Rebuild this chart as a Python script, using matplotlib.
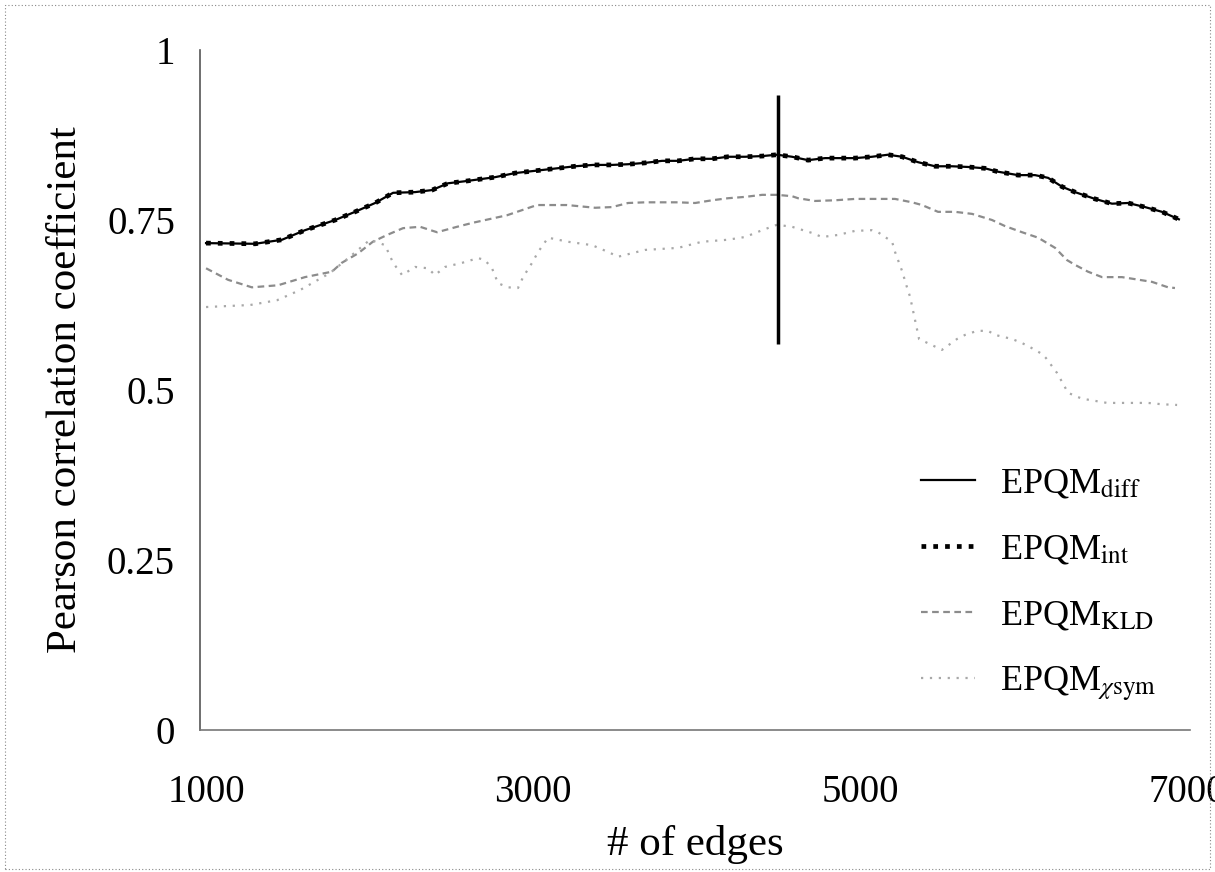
import matplotlib
matplotlib.use("Agg")
import matplotlib.pyplot as plt
from matplotlib.patches import Rectangle

plt.rcParams['font.family'] = ['Liberation Serif', 'DejaVu Serif']
plt.rcParams['mathtext.fontset'] = 'stix'

# ---- data ----
diff_x = [1000, 1300, 1465, 1605, 1790, 1911, 2034, 2144, 2278, 2382, 2480, 2584, 2768, 2890,
          3073, 3257, 3367, 3483, 3581, 3685, 3789, 3887, 3991, 4095, 4192, 4297, 4401, 4492,
          4584, 4682, 4786, 4865, 4969, 5073, 5171, 5257, 5355, 5459, 5563, 5660, 5764, 5844,
          5966, 6070, 6150, 6235, 6315, 6437, 6541, 6639, 6743, 6847, 6950]
diff_v = [0.716, 0.715, 0.721, 0.735, 0.750, 0.762, 0.775, 0.790, 0.791, 0.794, 0.804, 0.807,
          0.813, 0.819, 0.824, 0.829, 0.831, 0.831, 0.832, 0.834, 0.837, 0.837, 0.840, 0.840,
          0.843, 0.843, 0.844, 0.846, 0.843, 0.838, 0.841, 0.841, 0.841, 0.843, 0.846, 0.843,
          0.835, 0.829, 0.829, 0.828, 0.826, 0.821, 0.816, 0.816, 0.812, 0.799, 0.791, 0.781,
          0.774, 0.775, 0.769, 0.762, 0.751]
int_x = diff_x
int_v = diff_v

kld_x = [1000, 1135, 1280, 1440, 1605, 1770, 1830, 1930, 2020, 2107, 2205, 2309, 2413, 2535,
         2633, 2841, 3024, 3208, 3379, 3483, 3581, 3685, 3887, 3991, 4095, 4192, 4297, 4401,
         4492, 4584, 4621, 4725, 4847, 4969, 5092, 5214, 5318, 5379, 5477, 5581, 5685, 5807,
         5887, 5991, 6089, 6193, 6266, 6315, 6394, 6480, 6602, 6682, 6786, 6884, 6926]
kld_v = [0.679, 0.662, 0.651, 0.654, 0.666, 0.674, 0.687, 0.701, 0.718, 0.728, 0.738, 0.740,
         0.732, 0.740, 0.746, 0.757, 0.772, 0.772, 0.768, 0.769, 0.775, 0.776, 0.776, 0.775,
         0.779, 0.782, 0.784, 0.787, 0.787, 0.785, 0.782, 0.778, 0.779, 0.781, 0.781, 0.781,
         0.776, 0.772, 0.762, 0.762, 0.759, 0.750, 0.741, 0.732, 0.724, 0.709, 0.691, 0.684,
         0.674, 0.666, 0.666, 0.663, 0.659, 0.651, 0.650]

chi_x = [1000, 1270, 1434, 1575, 1758, 1880, 2003, 2095, 2144, 2199, 2278, 2358, 2400, 2462,
         2566, 2664, 2706, 2749, 2786, 2847, 2908, 2939, 2994, 3031, 3092, 3214, 3361, 3459,
         3520, 3685, 3887, 4033, 4192, 4297, 4401, 4492, 4584, 4706, 4767, 4865, 4969, 5073,
         5110, 5153, 5196, 5214, 5257, 5287, 5306, 5361, 5501, 5593, 5642, 5716, 5783, 5826,
         5930, 5991, 6040, 6113, 6137, 6205, 6272, 6327, 6364, 6511, 6639, 6761, 6847, 6939]
chi_v = [0.622, 0.625, 0.632, 0.647, 0.672, 0.696, 0.721, 0.713, 0.687, 0.669, 0.681, 0.679,
         0.669, 0.681, 0.687, 0.694, 0.691, 0.679, 0.657, 0.651, 0.650, 0.666, 0.687, 0.703,
         0.724, 0.718, 0.713, 0.703, 0.696, 0.706, 0.709, 0.718, 0.721, 0.725, 0.735, 0.743,
         0.740, 0.731, 0.725, 0.728, 0.734, 0.735, 0.732, 0.725, 0.718, 0.703, 0.675, 0.651,
         0.637, 0.575, 0.559, 0.575, 0.581, 0.587, 0.587, 0.581, 0.575, 0.569, 0.563, 0.553,
         0.547, 0.525, 0.496, 0.490, 0.487, 0.481, 0.481, 0.481, 0.479, 0.478]

marker_x = 4500
marker_range = [0.567, 0.934]

x_ticks = [1000, 3000, 5000, 7000]
y_ticks = [0, 0.25, 0.5, 0.75, 1]
y_tick_labels = ["0", "0.25", "0.5", "0.75", "1"]
labels = [r"EPQM$_{\mathrm{diff}}$", r"EPQM$_{\mathrm{int}}$",
          r"EPQM$_{\mathrm{KLD}}$", r"EPQM$_{\chi\mathrm{sym}}$"]

# ---- figure ----
fig = plt.figure(figsize=(12.15, 8.72), dpi=100)
ax = fig.add_axes([200 / 1215, 142 / 872, 990 / 1215, 680 / 872])

ax.plot(diff_x, diff_v, color="black", lw=1.6, label=labels[0], zorder=3)
ax.plot(int_x, int_v, color="black", lw=3.4, ls=(0, (1, 1.5)), label=labels[1], zorder=4)
ax.plot(kld_x, kld_v, color="#8c8c8c", lw=1.6, ls=(0, (3, 2)), label=labels[2], zorder=2)
ax.plot(chi_x, chi_v, color="#a8a8a8", lw=1.6, ls=(0, (1, 3)), label=labels[3], zorder=2)
ax.vlines(marker_x, marker_range[0], marker_range[1], color="black", lw=2.5, zorder=5)

ax.set_xlim(963, 7018)
ax.set_ylim(0, 1)
ax.set_xticks(x_ticks)
ax.set_xticklabels([str(t) for t in x_ticks])
ax.set_yticks(y_ticks)
ax.set_yticklabels(y_tick_labels)
ax.tick_params(axis="both", labelsize=28, length=0)
ax.tick_params(axis="y", pad=18)
ax.tick_params(axis="x", pad=32)

for s in ["top", "right"]:
    ax.spines[s].set_visible(False)
ax.spines["left"].set_linestyle((0, (1, 1)))
ax.spines["left"].set_color("#555555")
ax.spines["left"].set_linewidth(1.2)
ax.spines["bottom"].set_linestyle((0, (1, 1)))
ax.spines["bottom"].set_color("#777777")
ax.spines["bottom"].set_linewidth(1.2)

ax.set_xlabel("# of edges", fontsize=31, labelpad=10)
ax.set_ylabel("Pearson correlation coefficient", fontsize=31, labelpad=16)

leg = ax.legend(loc="upper left", bbox_to_anchor=(0.695, 0.434), frameon=False,
                fontsize=26, handlelength=1.5, handletextpad=0.7, labelspacing=0.9)

fig.add_artist(Rectangle((0.004, 0.004), 0.992, 0.99, transform=fig.transFigure,
                         fill=False, ls=(0, (1, 2)), lw=0.8, edgecolor="#888888"))

fig.savefig("out.png", dpi=100)
